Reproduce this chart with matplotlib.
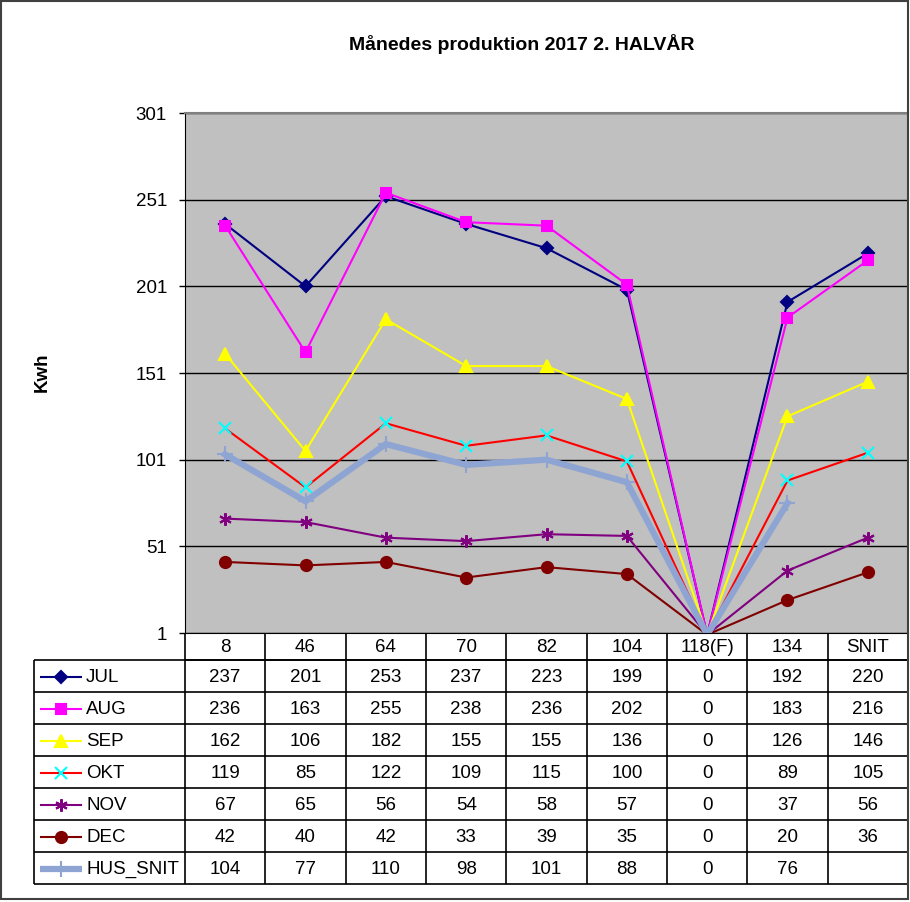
import numpy as np
import matplotlib
matplotlib.use('Agg')
import matplotlib.pyplot as plt
from matplotlib.lines import Line2D
from matplotlib.patches import Rectangle

# categories (panels) and monthly values
categories = ['8', '46', '64', '70', '82', '104', '118(F)', '134', 'SNIT']
series_names = ['JUL', 'AUG', 'SEP', 'OKT', 'NOV', 'DEC', 'HUS_SNIT']
jul = [237, 201, 253, 237, 223, 199, 0, 192, 220]
aug = [236, 163, 255, 238, 236, 202, 0, 183, 216]
sep = [162, 106, 182, 155, 155, 136, 0, 126, 146]
okt = [119, 85, 122, 109, 115, 100, 0, 89, 105]
nov = [67, 65, 56, 54, 58, 57, 0, 37, 56]
dec = [42, 40, 42, 33, 39, 35, 0, 20, 36]
hus_snit = [104, 77, 110, 98, 101, 88, 0, 76, None]
yticks = [1, 51, 101, 151, 201, 251, 301]

all_values = [jul, aug, sep, okt, nov, dec, hus_snit]

# style per series: line colour, marker, marker face, marker edge, size, line width
styles = [
    dict(color='#000080', marker='D', mfc='#000080', mec='#000080', ms=6, lw=1.5),
    dict(color='#FF00FF', marker='s', mfc='#FF00FF', mec='#FF00FF', ms=7.5, lw=1.5),
    dict(color='#FFFF00', marker='^', mfc='#FFFF00', mec='#FFFF00', ms=8, lw=1.5),
    dict(color='#FF0000', marker='x', mfc='#00FFFF', mec='#00FFFF', ms=8, lw=1.5),
    dict(color='#800080', marker=(6, 2, 0), mfc='#800080', mec='#800080', ms=9, lw=1.5),
    dict(color='#800000', marker='o', mfc='#800000', mec='#800000', ms=8, lw=1.5),
    dict(color='#8EA4D2', marker='+', mfc='#8EA4D2', mec='#8EA4D2', ms=11, lw=4.5),
]

FS = 13.5
FAM = 'Liberation Sans'

W, H = 910, 902
fig = plt.figure(figsize=(W / 100.0, H / 100.0), dpi=100)

def px_rect(x0, y0, x1, y1):
    return [x0 / W, 1 - y1 / H, (x1 - x0) / W, (y1 - y0) / H]

# outer chart border
fig.patches.append(Rectangle((1.0 / W, 1 - 899.0 / H), 907.0 / W, 898.0 / H,
                             transform=fig.transFigure, fill=False,
                             edgecolor='#404040', linewidth=1.5))

plot_l, plot_r, plot_t, plot_b = 185, 908, 113, 633
ax = fig.add_axes(px_rect(plot_l, plot_t, plot_r, plot_b))
ax.set_facecolor('#C0C0C0')
x = np.arange(len(categories))
for name, vals, st in zip(series_names, all_values, styles):
    y = np.array([np.nan if v is None else v for v in vals], dtype=float)
    marks = [i for i, v in enumerate(vals) if v is not None and v > 0]
    ax.plot(x, y, color=st['color'], lw=st['lw'], marker=st['marker'],
            ms=st['ms'], mfc=st['mfc'], mec=st['mec'], mew=1.5,
            markevery=marks, solid_joinstyle='miter')
ax.set_xlim(-0.5, len(categories) - 0.5)
ax.set_ylim(yticks[0], yticks[-1])
ax.set_yticks(yticks)
ax.set_yticklabels([str(t) for t in yticks], fontsize=FS, family=FAM)
ax.set_xticks([])
ax.yaxis.grid(True, color='black', linewidth=1)
ax.set_axisbelow(True)
ax.tick_params(axis='y', length=4, width=1, pad=9)
ax.spines['left'].set_color('black')
ax.spines['bottom'].set_color('black')
ax.spines['top'].set_color('#808080')
ax.spines['right'].set_visible(False)
ax.spines['top'].set_linewidth(1.5)

fig.text(522.0 / W, 1 - 44.0 / H, 'Månedes produktion 2017 2. HALVÅR',
         ha='center', va='center', fontsize=14, fontweight='bold', family=FAM)
fig.text(42.0 / W, 1 - 372.0 / H, 'Kwh', ha='center', va='center',
         rotation=90, fontsize=FS, fontweight='bold', family=FAM)

# data table under the plot, drawn in pixel units
tab_l, tab_t, tab_b = 34, 633, 884
tx = fig.add_axes(px_rect(tab_l - 2, tab_t, plot_r, tab_b + 2))
tx.set_xlim(tab_l - 2, plot_r)
tx.set_ylim(tab_b + 2, tab_t)
tx.axis('off')
colw = (plot_r - plot_l) / float(len(categories))
head_b = 660
rowh = (tab_b - head_b) / float(len(series_names))
lk = dict(color='black', lw=1.2, solid_capstyle='butt')
# horizontal lines
tx.plot([plot_l, plot_r], [head_b, head_b], **lk)
for r in range(len(series_names) + 1):
    yy = head_b + r * rowh
    tx.plot([tab_l, plot_r], [yy, yy], **lk)
# vertical lines
tx.plot([tab_l, tab_l], [head_b, tab_b], **lk)
for c in range(len(categories) + 1):
    xx = plot_l + c * colw
    tx.plot([xx, xx], [tab_t, tab_b], **lk)
for c, cat in enumerate(categories):
    tx.text(plot_l + (c + 0.5) * colw, (tab_t + head_b) / 2.0 + 1, cat,
            ha='center', va='center', fontsize=FS, family=FAM)
for r, (name, vals, st) in enumerate(zip(series_names, all_values, styles)):
    yc = head_b + (r + 0.5) * rowh + 1
    tx.add_line(Line2D([40, 82], [yc, yc], color=st['color'], lw=st['lw'],
                       solid_capstyle='butt'))
    tx.add_line(Line2D([61], [yc], marker=st['marker'], ms=st['ms'],
                       mfc=st['mfc'], mec=st['mec'], mew=1.5, lw=0))
    tx.text(86, yc, name, ha='left', va='center', fontsize=FS, family=FAM)
    for c, v in enumerate(vals):
        if v is None:
            continue
        tx.text(plot_l + (c + 0.5) * colw, yc, str(v), ha='center',
                va='center', fontsize=FS, family=FAM)

fig.savefig('out.png', dpi=100)
